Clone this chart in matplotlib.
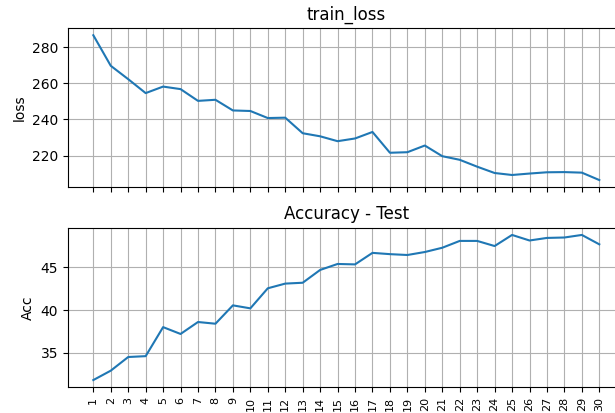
import matplotlib
matplotlib.use('Agg')
from matplotlib import pyplot as plt

epochs = list(range(1, 31))

train_loss = [
    286.6, 269.7, 262.3, 254.6, 258.2, 256.8, 250.3, 250.9, 245.0, 244.7,
    240.8, 241.0, 232.4, 230.7, 228.0, 229.5, 233.1, 221.6, 221.9, 225.6,
    219.7, 217.7, 213.9, 210.4, 209.3, 210.1, 210.8, 210.9, 210.6, 206.5,
]

test_acc = [
    31.8, 32.9, 34.5, 34.6, 38.0, 37.2, 38.6, 38.4, 40.55, 40.2,
    42.55, 43.1, 43.2, 44.7, 45.4, 45.35, 46.7, 46.55, 46.45, 46.8,
    47.3, 48.1, 48.1, 47.5, 48.8, 48.15, 48.45, 48.5, 48.8, 47.7,
]

fig = plt.figure(figsize=(6.15, 4.13), dpi=100)
ax1 = fig.add_axes([0.1106, 0.5465, 0.905, 0.3857])
ax2 = fig.add_axes([0.1106, 0.0622, 0.905, 0.3865], sharex=ax1)

ax1.plot(epochs, train_loss)
ax1.set_title('train_loss')
ax1.set_ylabel('loss')
ax1.grid(True)
ax1.tick_params(axis='x', labelbottom=False)

ax2.plot(epochs, test_acc)
ax2.set_title('Accuracy - Test')
ax2.set_ylabel('Acc')
ax2.grid(True)
ax2.set_xticks(epochs)
ax2.set_xticklabels([str(e) for e in epochs], rotation=90, fontsize=8)

fig.savefig('out.png', dpi=100)
